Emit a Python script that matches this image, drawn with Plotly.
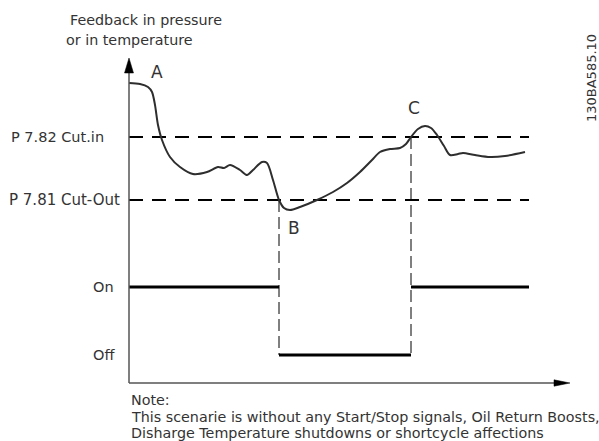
import plotly.graph_objects as go

# Feedback signal over time (arbitrary time units / feedback units)
time = [0, 1.1, 1.9, 2.3, 2.6, 2.9, 3.3, 4.1, 5.1, 6.4, 7.8, 8.9, 9.5, 10.1,
        11.1, 11.8, 12.4, 13.3, 13.8, 14.4, 15.0, 15.5, 16.1, 17.1, 18.8, 20.4,
        21.8, 23.1, 24.3, 25.1, 26.1, 27.1, 27.7, 28.2, 28.9, 29.6, 30.2, 30.8,
        31.5, 32.1, 32.9, 33.4, 34.6, 36.1, 37.6, 39.6]
feedback = [30.0, 29.9, 29.6, 29.1, 27.8, 25.8, 24.3, 22.6, 21.6, 20.9, 21.1,
            21.6, 21.5, 21.8, 21.3, 20.8, 21.3, 22.1, 22.0, 20.3, 18.3, 17.5,
            17.3, 17.6, 18.3, 19.1, 20.0, 21.1, 22.3, 23.1, 23.4, 23.5, 23.9,
            24.6, 25.4, 25.7, 25.5, 24.8, 23.7, 22.8, 22.9, 23.0, 22.8, 22.6,
            22.7, 23.1]

# Thresholds
cut_in = 24.6
cut_out = 18.3
threshold_labels = ["P 7.82 Cut.in", "P 7.81 Cut-Out"]

# Compressor state levels and switching times
state_levels = {"On": 9.6, "Off": 2.8}
switch_times = [0.0, 15.0, 28.2, 40.0]
states = ["On", "Off", "On"]
event_labels = ["A", "B", "C"]

t_end = 40.0
x_axis_end = 44.1
y_axis_end = 32.5

TEXT = "#333333"
FONT = "DejaVu Sans"

fig = go.Figure()

# Threshold lines
for level in (cut_in, cut_out):
    fig.add_trace(go.Scatter(x=[0, t_end], y=[level, level], mode="lines",
                             line=dict(color="black", width=2, dash="14px,9px"),
                             hoverinfo="skip"))

# Vertical switching markers
t_off, t_on = switch_times[1], switch_times[2]
fig.add_trace(go.Scatter(x=[t_off, t_off, None, t_on, t_on],
                         y=[cut_out, state_levels["Off"], None, cut_in, state_levels["Off"]],
                         mode="lines",
                         line=dict(color="black", width=1, dash="12px,5px"),
                         hoverinfo="skip"))

# State segments
sx, sy = [], []
for i, s in enumerate(states):
    sx += [switch_times[i], switch_times[i + 1], None]
    sy += [state_levels[s], state_levels[s], None]
fig.add_trace(go.Scatter(x=sx, y=sy, mode="lines",
                         line=dict(color="black", width=3), hoverinfo="skip"))

# Feedback curve
fig.add_trace(go.Scatter(x=time, y=feedback, mode="lines",
                         line=dict(color="#2e2e2e", width=2, shape="spline", smoothing=0.8),
                         hoverinfo="skip"))

# Axes with arrowheads
y_head = 1.5
x_head = 1.6
fig.add_trace(go.Scatter(x=[0, 0, None, 0, x_axis_end - x_head],
                         y=[0, y_axis_end - y_head, None, 0, 0],
                         mode="lines", line=dict(color="#555555", width=1.5),
                         hoverinfo="skip"))
fig.add_trace(go.Scatter(x=[-0.45, 0, 0.45, -0.45],
                         y=[y_axis_end - y_head, y_axis_end, y_axis_end - y_head, y_axis_end - y_head],
                         mode="lines", fill="toself", fillcolor="black",
                         line=dict(color="black", width=0.5), hoverinfo="skip"))
fig.add_trace(go.Scatter(x=[x_axis_end - x_head, x_axis_end, x_axis_end - x_head, x_axis_end - x_head],
                         y=[0.32, 0, -0.32, 0.32],
                         mode="lines", fill="toself", fillcolor="black",
                         line=dict(color="black", width=0.5), hoverinfo="skip"))

ann = []

def label(x, y, text, size=14, xanchor="left", **kw):
    ann.append(dict(x=x, y=y, xref="x", yref="y", text=text, showarrow=False,
                    xanchor=xanchor, yanchor="middle",
                    font=dict(family=FONT, size=size, color=TEXT), **kw))

label(-6.1, 36.3, "Feedback in pressure", size=14.3)
label(-6.5, 34.3, "or in temperature", size=14.3)
label(-12.0, cut_in, threshold_labels[0], size=14.5)
label(-12.2, cut_out, threshold_labels[1], size=15)
label(-3.8, state_levels["On"], "On", size=14.5)
label(-3.8, state_levels["Off"], "Off", size=14.5)

# Event markers A, B, C
event_pos = [(time[0] + 2.8, feedback[0] + 1.1),
             (t_off + 1.5, cut_out - 2.8),
             (t_on + 0.3, cut_in + 2.9)]
for (ex, ey), name in zip(event_pos, event_labels):
    label(ex, ey, name, size=17, xanchor="center")

label(0.0, -1.7, "Note:", size=14.3)
label(0.0, -3.4, "This scenarie is without any Start/Stop signals, Oil Return Boosts,", size=14.3)
label(0.0, -5.0, "Disharge Temperature shutdowns or shortcycle affections", size=14.3)
label(46.2, 30.5, "130BA585.10", size=13, xanchor="center", textangle=-90)

fig.update_layout(
    width=599, height=441,
    margin=dict(l=0, r=0, t=0, b=0),
    paper_bgcolor="white", plot_bgcolor="white",
    showlegend=False,
    annotations=ann,
    xaxis=dict(range=[-12.9, 47.0], visible=False, fixedrange=True),
    yaxis=dict(range=[-5.8, 38.3], visible=False, fixedrange=True),
)

fig.write_html("out.html")
